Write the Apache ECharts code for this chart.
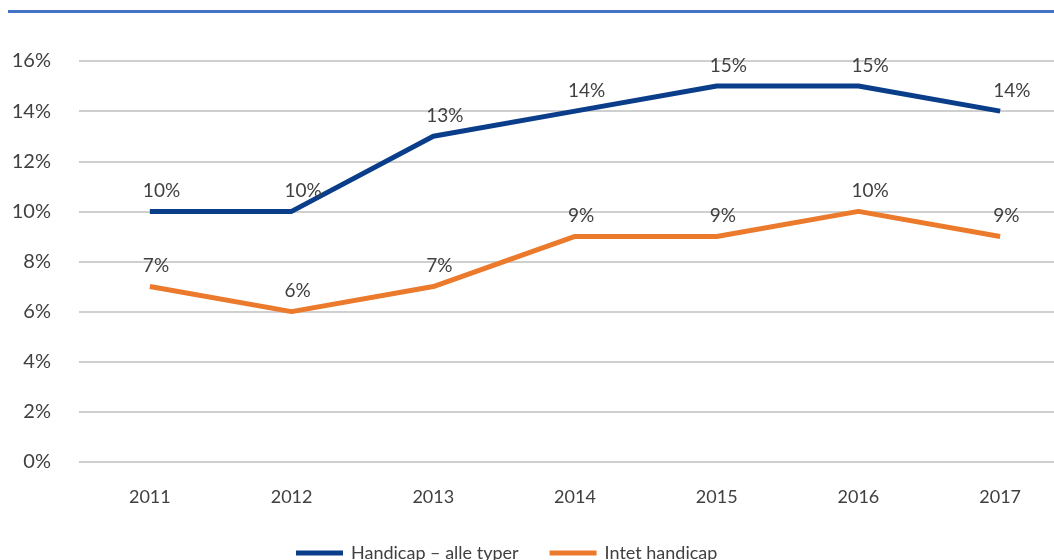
<!DOCTYPE html>
<html>
<head>
<meta charset="utf-8">
<script src="https://cdn.jsdelivr.net/npm/echarts@6/dist/echarts.min.js"></script>
<style>
  html, body { margin: 0; padding: 0; background: #fff; }
  #main { width: 1054px; height: 560px; }
</style>
</head>
<body>
<div id="main"></div>
<script>
var years = ['2011', '2012', '2013', '2014', '2015', '2016', '2017'];
var handicapAlle = [10, 10, 13, 14, 15, 15, 14];
var intetHandicap = [7, 6, 7, 9, 9, 10, 9];
var seriesNames = ['Handicap – alle typer', 'Intet handicap'];

var chart = echarts.init(document.getElementById('main'));
var font = 'Lato, "Open Sans", sans-serif';
var txt = '#404040';

function lineSeries(name, data, color) {
    return {
        name: name,
        type: 'line',
        data: data,
        symbol: 'circle',
        symbolSize: 0,
        lineStyle: { color: color, width: 5, cap: 'butt' },
        itemStyle: { color: color },
        label: {
            show: true,
            position: 'top',
            distance: 11,
            align: 'left',
            offset: [-7, 0],
            formatter: '{c}%',
            color: txt,
            fontSize: 19,
            fontFamily: font
        },
        z: 3
    };
}

var option = {
    animation: false,
    textStyle: { fontFamily: font },
    graphic: [{
        type: 'rect',
        shape: { x: 8, y: 10, width: 1054, height: 3 },
        style: { fill: '#4472c4' }
    }],
    grid: { left: 79, width: 992, top: 61, bottom: 98, outerBoundsMode: 'none', containLabel: false },
    legend: {
        bottom: -7,
        left: 291,
        itemWidth: 47,
        itemHeight: 5,
        itemGap: 31,
        icon: 'rect',
        textStyle: { color: txt, fontSize: 18, fontFamily: font, padding: [0, 0, 0, 3] },
        data: seriesNames
    },
    xAxis: {
        type: 'category',
        data: years,
        boundaryGap: true,
        axisLine: { show: false },
        axisTick: { show: false },
        axisLabel: { color: txt, fontSize: 18, fontFamily: font, margin: 26 }
    },
    yAxis: {
        type: 'value',
        min: 0,
        max: 16,
        interval: 2,
        axisLine: { show: false },
        axisTick: { show: false },
        axisLabel: { color: txt, fontSize: 20, fontFamily: font, margin: 28, formatter: '{value}%' },
        splitLine: { lineStyle: { color: '#bfbfbf', width: 1.5 } }
    },
    series: [
        lineSeries(seriesNames[0], handicapAlle, '#0a3d8a'),
        lineSeries(seriesNames[1], intetHandicap, '#ec7a2c')
    ]
};
chart.setOption(option);
</script>
</body>
</html>
